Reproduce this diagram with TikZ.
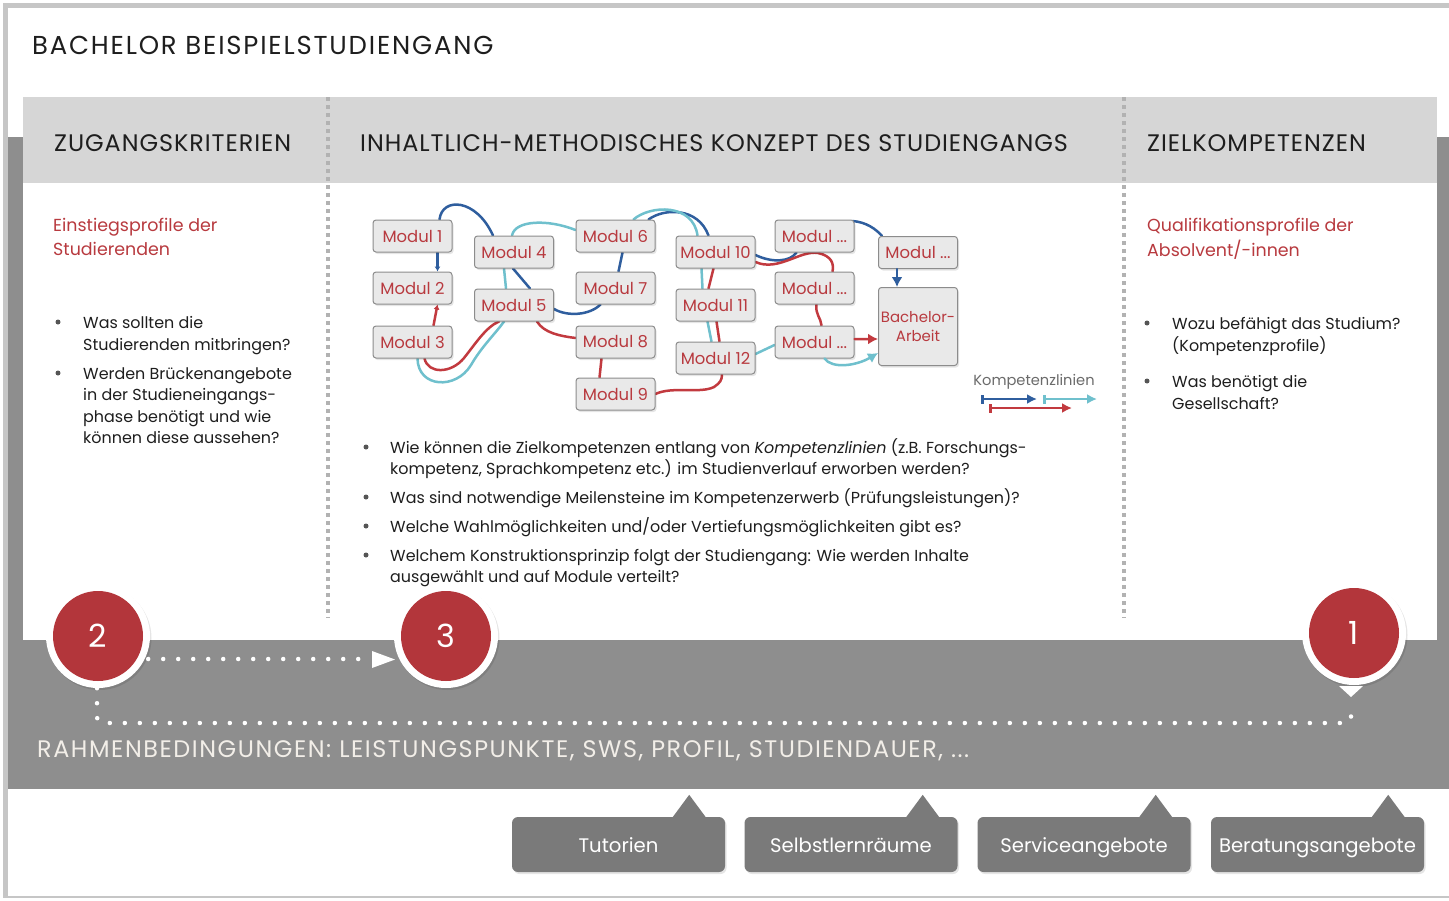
\documentclass[tikz,border=0pt]{standalone}
\usepackage{fontspec}
\setmainfont{Poppins}
\newfontfamily\capsfam[LetterSpace=4]{Poppins}
\newfontfamily\titlefam[LetterSpace=7]{Poppins}
\newfontfamily\bandfam[LetterSpace=6.5]{Poppins}
\usetikzlibrary{arrows.meta,calc}
\definecolor{bandgray}{HTML}{8E8E8E}
\definecolor{headgray}{HTML}{D6D6D6}
\definecolor{framegray}{HTML}{C6C6C6}
\definecolor{divgray}{HTML}{B2B2B2}
\definecolor{tabgray}{HTML}{7A7A7A}
\definecolor{circred}{HTML}{B3363B}
\definecolor{txtred}{HTML}{B83A3F}
\definecolor{modfill}{HTML}{E9E9E9}
\definecolor{modline}{HTML}{8C8C8C}
\definecolor{lblue}{HTML}{2F5E9E}
\definecolor{lcyan}{HTML}{6FC0CD}
\definecolor{lred}{HTML}{C23A3F}
\definecolor{txtdark}{HTML}{1E1E1E}
\definecolor{bandtext}{HTML}{F2EEE8}
\definecolor{bulletgray}{HTML}{555555}
\definecolor{legtext}{HTML}{6B6B6B}
\newcommand\fTitle{\titlefam\fontsize{26}{30}\selectfont}
\newcommand\fHead{\capsfam\fontsize{24}{28}\selectfont}
\newcommand\fBand{\bandfam\fontsize{24}{28}\selectfont}
\newcommand\fRed{\fontsize{17.5}{21}\selectfont}
\newcommand\fBody{\fontsize{16}{19}\selectfont}
\newcommand\fMod{\fontsize{16.5}{19}\selectfont}
\newcommand\fBA{\fontsize{15}{20}\selectfont}
\newcommand\fTab{\fontsize{19.7}{23}\selectfont}
\newcommand\fNum{\fontsize{32}{36}\selectfont}
\newcommand\fLeg{\fontsize{14.7}{17}\selectfont}
\pgfdeclarelayer{bglayer}
\pgfdeclarelayer{curvelayer}
\pgfsetlayers{bglayer,curvelayer,main}
\tikzset{
  softshadow/.style={preaction={fill=black, opacity=0.10, transform canvas={xshift=1.5bp,yshift=-2bp}}},
  modbox/.style={draw=modline, fill=modfill, rounded corners=3bp, line width=1bp,
    minimum width=79bp, minimum height=32bp, inner sep=0pt, text=txtred, font=\fMod, softshadow},
  bl/.style={draw=lblue, line width=2.5bp, line cap=round},
  cy/.style={draw=lcyan, line width=2.5bp, line cap=round},
  rd/.style={draw=lred, line width=2.5bp, line cap=round},
  smalltip/.style={-{Latex[length=5bp,width=6bp]}},
  bigtip/.style={-{Latex[length=10bp,width=11bp]}},
  txt/.style={anchor=base west, inner sep=0pt, text=txtdark, font=\fBody},
  redtxt/.style={anchor=base west, inner sep=0pt, text=txtred, font=\fRed},
  headtxt/.style={anchor=base west, inner sep=0pt, text=txtdark, font=\fHead},
  bullet/.style={circle, fill=bulletgray, inner sep=0pt, minimum size=5bp},
  ring/.style={circle, fill=white, inner sep=0pt, minimum size=104bp, softshadow},
  numcirc/.style={circle, fill=circred, inner sep=0pt, minimum size=90bp, text=white, font=\fNum},
  dots/.style={draw=white, line width=4.5bp, line cap=round, dash pattern=on 0bp off 15bp},
  tab/.style={fill=tabgray, rounded corners=6bp, minimum width=213bp, minimum height=55bp,
    inner sep=0pt, text=white, font=\fTab, text height=18bp, text depth=2bp, softshadow},
  divider/.style={draw=divgray, line width=3.5bp, dash pattern=on 4bp off 4bp}
}
\begin{document}
\begin{tikzpicture}[x=1bp,y=-1bp]
\useasboundingbox (0,0) rectangle (1449,900);
\begin{pgfonlayer}{bglayer}
\fill[white] (0,0) rectangle (1449,900);
\fill[framegray] (3,3) rectangle (1449,898);
\fill[white] (8,8) rectangle (1449,896);
\fill[bandgray] (8,137) rectangle (1449,789);
\fill[white] (23,97) rectangle (1437,640);
\fill[headgray] (23,97) rectangle (1437,183);
\draw[divider] (328,97) -- (328,618);
\draw[divider] (1124,97) -- (1124,618);
\end{pgfonlayer}

% title and headers
\node[anchor=base west, inner sep=0pt, text=txtdark, font=\fTitle] (title) at (32,54) {BACHELOR BEISPIELSTUDIENGANG};
\node[headtxt] (h1) at (54,151.5) {ZUGANGSKRITERIEN};
\node[headtxt] (h2) at (360,151.5) {INHALTLICH-METHODISCHES KONZEPT DES STUDIENGANGS};
\node[headtxt] (h3) at (1147,151.5) {ZIELKOMPETENZEN};

% left column
\node[redtxt] (r1) at (53,231) {Einstiegsprofile der};
\node[redtxt] (r2) at (53,255) {Studierenden};
\node[bullet] (lb1) at (58,322) {};
\node[bullet] (lb2) at (58,373) {};
\node[txt] (l1) at (83,328) {Was sollten die};
\node[txt] (l2) at (83,350) {Studierenden mitbringen?};
\node[txt] (l3) at (83,379) {Werden Brückenangebote};
\node[txt] (l4) at (83,400) {in der Studieneingangs-};
\node[txt] (l5) at (83,422) {phase benötigt und wie};
\node[txt] (l6) at (83,443) {können diese aussehen?};

% right column
\node[redtxt] (q1) at (1147,231) {Qualifikationsprofile der};
\node[redtxt] (q2) at (1147,256) {Absolvent/-innen};
\node[bullet] (rb1) at (1147,323) {};
\node[bullet] (rb2) at (1147,381) {};
\node[txt] (z1) at (1172,329) {Wozu befähigt das Studium?};
\node[txt] (z2) at (1172,351) {(Kompetenzprofile)};
\node[txt] (z3) at (1172,387) {Was benötigt die};
\node[txt] (z4) at (1172,409) {Gesellschaft?};

% center bullets
\node[bullet] (cb1) at (366,447) {};
\node[bullet] (cb2) at (366,497) {};
\node[bullet] (cb3) at (366,526) {};
\node[bullet] (cb4) at (366,555) {};
\node[txt] (c1) at (390,453) {Wie können die Zielkompetenzen entlang von \textit{Kompetenzlinien} (z.B. Forschungs-};
\node[txt] (c2t) at (390,474) {kompetenz, Sprachkompetenz etc.) im Studienverlauf erworben werden?};
\node[txt] (c3t) at (390,503) {Was sind notwendige Meilensteine im Kompetenzerwerb (Prüfungsleistungen)?};
\node[txt] (c4t) at (390,532) {Welche Wahlmöglichkeiten und/oder Vertiefungsmöglichkeiten gibt es?};
\node[txt] (c5t) at (390,561) {Welchem Konstruktionsprinzip folgt der Studiengang: Wie werden Inhalte};
\node[txt] (c6t) at (390,582) {ausgewählt und auf Module verteilt?};

% modules
\node[modbox] (m1) at (412.5,236) {Modul 1};
\node[modbox] (m2) at (412.5,288) {Modul 2};
\node[modbox] (m3) at (412.5,342) {Modul 3};
\node[modbox] (m4) at (514,252) {Modul 4};
\node[modbox] (m5) at (514,305) {Modul 5};
\node[modbox] (m6) at (615.5,236) {Modul 6};
\node[modbox] (m7) at (615.5,288) {Modul 7};
\node[modbox] (m8) at (615.5,342) {Modul 8};
\node[modbox] (m9) at (615.5,394) {Modul 9};
\node[modbox] (m10) at (715.5,252) {Modul 10};
\node[modbox] (m11) at (715.5,305) {Modul 11};
\node[modbox] (m12) at (715.5,358) {Modul 12};
\node[modbox] (ma) at (814.5,236) {Modul ...};
\node[modbox] (mb) at (814.5,288) {Modul ...};
\node[modbox] (mc) at (814.5,342) {Modul ...};
\node[modbox] (md) at (918,252.5) {Modul ...};
\node[modbox, minimum height=78bp, align=center, font=\fBA] (ba) at (918,326.5) {Bachelor-\\Arbeit};

\begin{pgfonlayer}{curvelayer}
% blue line
\draw[bl,smalltip] ($(m1.south)+(25,0)$) -- ($(m2.north)+(25,0)$);
\draw[bl] ($(m1.north)+(27,0)$) .. controls (442,197) and (476,198) .. ($(m4.north)+(-21,0)$);
\draw[bl] ($(m4.south)+(-1,0)$) -- ($(m5.north)+(16,0)$);
\draw[bl] ($(m5.east)+(0,4)$) .. controls (568,317) and (590,315) .. ($(m7.south)+(-15,0)$);
\draw[bl] ($(m7.north)+(3,0)$) -- ($(m6.south)+(7,0)$);
\draw[bl] ($(m6.north)+(33,0)$) .. controls (664,208) and (698,207) .. ($(m10.north)+(-7,0)$);
\draw[bl] ($(m10.east)+(0,3)$) .. controls (772,263) and (790,262) .. ($(ma.south)+(-18,0)$);
\draw[bl] ($(ma.east)+(-2,-15)$) .. controls (866,222) and (876,229) .. ($(md.north)+(-36,0)$);
% cyan line
\draw[cy] ($(m3.south)+(5,0)$) .. controls (418,388) and (456,390) .. (471,365) .. controls (482,346) and (496,333) .. ($(m5.south)+(-10,0)$);
\draw[cy] ($(m5.north)+(-8,0)$) -- ($(m4.south)+(-10,0)$);
\draw[cy] ($(m4.north)+(-2,0)$) .. controls (515,220) and (548,219) .. ($(m6.west)+(0,-6)$);
\draw[cy] ($(m6.north)+(18,0)$) .. controls (650,205) and (693,203) .. ($(m10.north)+(-18,0)$);
\draw[cy] ($(m10.south)+(-14,0)$) -- ($(m11.north)+(-13,0)$);
\draw[cy] ($(m11.south)+(-8,0)$) -- ($(m12.north)+(-4,0)$);
\draw[cy] ($(m12.east)+(0,-4)$) -- ($(mc.west)+(0,3)$);
% red line
\draw[rd,smalltip] ($(m3.north)+(21,0)$) -- ($(m2.south)+(25,0)$);
\draw[rd] ($(m3.south)+(12,0)$) .. controls (428,374) and (451,374) .. (464,358) .. controls (476,343) and (486,327) .. ($(m5.south)+(-15,0)$);
\draw[rd] ($(m5.south)+(23,0)$) .. controls (544,333) and (560,336) .. ($(m8.west)+(0,-4)$);
\draw[rd] ($(m8.south)+(-14,0)$) -- ($(m9.north)+(-16,0)$);
\draw[rd] ($(m9.east)+(0,0)$) .. controls (672,386) and (700,394) .. (714,387) .. controls (720,383) and (722,380) .. ($(m12.south)+(6.5,0)$);
\draw[rd] ($(m10.south)+(-2,0)$) -- ($(m11.north)+(-7,0)$);
\draw[rd] ($(m11.south)+(1,0)$) -- ($(m12.north)+(4,0)$);
\draw[rd] ($(m10.east)+(0,10)$) .. controls (778,272) and (800,250) .. (818,253) .. controls (832,256) and (834,264) .. ($(mb.north)+(18,0)$);
\draw[rd] ($(mb.south)+(2,0)$) .. controls (815,314) and (821,318) .. ($(mc.north)+(7,0)$);
\end{pgfonlayer}
% arrows into the thesis box
\draw[bl,bigtip] ($(md.south)+(-21,0)$) -- ($(ba.north)+(-21,0)$);
\draw[rd,bigtip] ($(mc.east)+(0,-3)$) -- ($(ba.west)+(0,12.5)$);
\draw[cy,bigtip] ($(mc.south)+(10,0)$) .. controls (832,369) and (856,366) .. ($(ba.west)+(0,26.5)$);

% legend
\node[inner sep=0pt, text=legtext, font=\fLeg] (leg) at (1034,382) {Kompetenzlinien};
\coordinate (lgb1) at (981,399);
\coordinate (lgb2) at (1037,399);
\coordinate (lgc1) at (1043,399);
\coordinate (lgc2) at (1097,399);
\coordinate (lgr1) at (989,408);
\coordinate (lgr2) at (1072,408);
\draw[draw=lblue, line width=2.5bp, {Bar[width=9bp,line width=2.5bp]}-{Latex[length=10bp,width=10bp]}] (lgb1) -- (lgb2);
\draw[draw=lcyan, line width=2.5bp, {Bar[width=9bp,line width=2.5bp]}-{Latex[length=10bp,width=10bp]}] (lgc1) -- (lgc2);
\draw[draw=lred, line width=2.5bp, {Bar[width=9bp,line width=2.5bp]}-{Latex[length=10bp,width=10bp]}] (lgr1) -- (lgr2);

% circles
\node[ring] (c2ring) at (98,636) {};
\node[ring] (c3ring) at (446,636) {};
\node[ring] (c1ring) at (1354,633) {};
\node[numcirc] (c2) at (98,636) {2};
\node[numcirc] (c3) at (446,636) {3};
\node[numcirc] (c1) at (1354,633) {1};

% dotted connectors
\coordinate (d3) at (370,659);
\draw[dots] ($(c2.east)+(5,23)$) -- (d3);
\fill[white] (372,651) -- (395,659.5) -- (372,668) -- cycle;
\coordinate (dk1) at (97,723);
\coordinate (dk2) at (1351,723);
\coordinate (d1) at (1351,703);
\draw[dots, rounded corners=6bp] ($(c2.south)+(-1,7)$) -- (dk1) -- (dk2) -- (d1);
\fill[white] (1339,686) -- (1363,686) -- (1351,697) -- cycle;

% frame text
\node[anchor=base west, inner sep=0pt, text=bandtext, font=\fBand] (rahmen) at (37,757) {RAHMENBEDINGUNGEN: LEISTUNGSPUNKTE, SWS, PROFIL, STUDIENDAUER, ...};

% tabs
\node[tab] (t1) at (618.5,844.5) {Tutorien};
\node[tab] (t2) at (851,844.5) {Selbstlernräume};
\node[tab] (t3) at (1084,844.5) {Serviceangebote};
\node[tab] (t4) at (1317.5,844.5) {Beratungsangebote};
\fill[tabgray] ($(t1.north east)+(-53,1)$) -- ($(t1.north east)+(-36,-22)$) -- ($(t1.north east)+(-19,1)$) -- cycle;
\fill[tabgray] ($(t2.north east)+(-52,1)$) -- ($(t2.north east)+(-35,-22)$) -- ($(t2.north east)+(-18,1)$) -- cycle;
\fill[tabgray] ($(t3.north east)+(-52,1)$) -- ($(t3.north east)+(-35,-22)$) -- ($(t3.north east)+(-18,1)$) -- cycle;
\fill[tabgray] ($(t4.north east)+(-53,1)$) -- ($(t4.north east)+(-36,-22)$) -- ($(t4.north east)+(-19,1)$) -- cycle;
\end{tikzpicture}
\end{document}
